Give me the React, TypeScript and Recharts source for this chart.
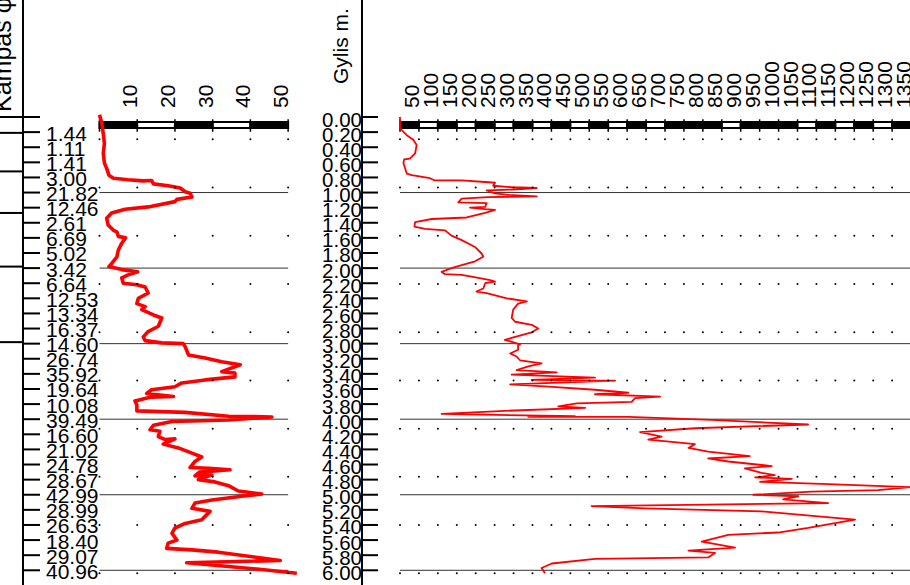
import React from 'react';
import { LineChart, Line, XAxis, YAxis, ReferenceLine, ReferenceArea, ReferenceDot } from 'recharts';

// ---------- data ----------
const depthTicks = [0, 0.2, 0.4, 0.6, 0.8, 1.0, 1.2, 1.4, 1.6, 1.8, 2.0, 2.2, 2.4, 2.6, 2.8, 3.0, 3.2, 3.4, 3.6, 3.8, 4.0, 4.2, 4.4, 4.6, 4.8, 5.0, 5.2, 5.4, 5.6, 5.8, 6.0];
const angleTickLabels = ['1.44', '1.11', '1.41', '3.00', '21.82', '12.46', '2.61', '6.69', '5.02', '3.42', '6.64', '12.53', '13.34', '16.37', '14.60', '26.74', '35.92', '19.64', '10.08', '39.49', '16.60', '21.02', '24.78', '28.67', '42.99', '28.99', '26.63', '18.40', '29.07', '40.96'];
const angleAxisTicks = [0, 10, 20, 30, 40, 50];
const angleScaleWhite = [false, true, false, true, false];
const resAxisTicks = [0, 50, 100, 150, 200, 250, 300, 350, 400, 450, 500, 550, 600, 650, 700, 750, 800, 850, 900, 950, 1000, 1050, 1100, 1150, 1200, 1250, 1300, 1350];
const resScaleWhiteIdx = [1, 3, 5, 7, 9, 11, 13, 17, 21, 23, 25];
const majorDepths = [1, 2, 3, 4, 5, 6];
const gridDotDepths = [0.295, 0.933, 1.572, 2.21, 2.848, 3.487, 4.125, 4.763, 5.402, 6.04];
const layerDepths = [0, 0.21, 0.72, 1.27, 1.98, 2.98];

const angleDepths = [-0.03, 0.08, 0.22, 0.35, 0.48, 0.61, 0.68, 0.77, 0.81, 0.83, 0.845, 0.84, 0.885, 0.91, 0.94, 0.99, 1.01, 1.06, 1.09, 1.12, 1.19, 1.22, 1.27, 1.34, 1.43, 1.5, 1.52, 1.58, 1.6, 1.67, 1.76, 1.85, 1.94, 1.98, 2.02, 2.05, 2.09, 2.13, 2.2, 2.22, 2.25, 2.33, 2.4, 2.47, 2.51, 2.55, 2.62, 2.66, 2.77, 2.84, 2.91, 2.96, 2.99, 3.0, 3.04, 3.15, 3.19, 3.24, 3.28, 3.37, 3.39, 3.44, 3.48, 3.52, 3.57, 3.61, 3.66, 3.7, 3.71, 3.76, 3.81, 3.89, 3.91, 3.96, 3.97, 4.01, 4.03, 4.08, 4.14, 4.16, 4.23, 4.27, 4.26, 4.33, 4.38, 4.45, 4.5, 4.56, 4.64, 4.65, 4.67, 4.7, 4.75, 4.74, 4.8, 4.83, 4.88, 4.95, 4.99, 5.02, 5.07, 5.11, 5.18, 5.22, 5.33, 5.38, 5.44, 5.51, 5.6, 5.64, 5.71, 5.73, 5.76, 5.87, 5.9, 5.95, 5.99, 6.04];
const angleValues = [0, 0.6, 1.0, 1.3, 1.0, 1.3, 1.9, 2.5, 3.7, 7.6, 11.5, 13.8, 14.3, 18.2, 21.4, 22.7, 24.0, 24.5, 20.5, 20.0, 12.9, 6.8, 3.2, 1.9, 2.3, 3.7, 4.6, 5.0, 6.9, 5.9, 5.0, 4.6, 3.2, 2.5, 5.9, 10.1, 7.6, 5.9, 6.3, 9.9, 12.1, 12.9, 10.3, 9.9, 12.1, 11.2, 14.3, 16.5, 15.6, 12.9, 11.6, 12.1, 16.5, 22.2, 22.7, 23.6, 28.0, 32.4, 37.3, 32.4, 35.9, 35.9, 28.0, 21.8, 20.0, 13.8, 12.5, 19.6, 13.4, 9.4, 9.9, 9.9, 22.7, 34.2, 45.7, 34.2, 19.2, 14.3, 13.4, 16.0, 15.6, 17.4, 20.0, 16.9, 20.9, 24.5, 27.1, 25.3, 24.0, 28.9, 34.6, 26.5, 25.3, 29.8, 26.2, 30.6, 34.2, 36.8, 43.0, 37.7, 29.8, 25.3, 24.5, 29.3, 27.1, 22.7, 20.0, 19.2, 20.5, 18.2, 17.8, 24.5, 31.5, 47.9, 23.1, 34.2, 43.0, 52.3];

const resDepths = [0, 0.15, 0.24, 0.3, 0.37, 0.48, 0.55, 0.56, 0.61, 0.75, 0.77, 0.81, 0.84, 0.84, 0.86, 0.87, 0.91, 0.93, 0.94, 0.96, 0.97, 1.01, 1.03, 1.05, 1.06, 1.08, 1.13, 1.14, 1.19, 1.2, 1.22, 1.23, 1.27, 1.33, 1.35, 1.39, 1.45, 1.48, 1.5, 1.57, 1.63, 1.72, 1.81, 1.85, 1.91, 1.96, 2.0, 2.05, 2.08, 2.09, 2.13, 2.16, 2.18, 2.2, 2.27, 2.31, 2.33, 2.4, 2.44, 2.47, 2.55, 2.66, 2.71, 2.75, 2.8, 2.85, 2.91, 2.95, 3.01, 3.02, 3.08, 3.13, 3.17, 3.22, 3.26, 3.3, 3.35, 3.38, 3.41, 3.45, 3.48, 3.49, 3.54, 3.57, 3.61, 3.65, 3.67, 3.7, 3.72, 3.77, 3.79, 3.83, 3.85, 3.89, 3.93, 3.96, 3.97, 3.97, 4.01, 4.07, 4.12, 4.17, 4.23, 4.27, 4.3, 4.33, 4.38, 4.43, 4.49, 4.52, 4.56, 4.62, 4.65, 4.71, 4.74, 4.77, 4.79, 4.83, 4.86, 4.9, 4.94, 4.96, 5.0, 5.02, 5.06, 5.11, 5.15, 5.18, 5.22, 5.33, 5.44, 5.5, 5.53, 5.62, 5.7, 5.74, 5.77, 5.83, 5.85, 5.91, 5.97, 6.04];
const resValues = [0, 0, 18, 35, 44, 40, 26, 11, 9, 18, 31, 79, 92, 163, 225, 251, 246, 295, 361, 299, 229, 251, 286, 361, 233, 163, 154, 229, 225, 185, 225, 251, 225, 176, 84, 40, 38, 66, 119, 136, 163, 198, 216, 220, 198, 163, 136, 110, 119, 163, 207, 238, 251, 225, 220, 202, 229, 282, 335, 312, 299, 295, 304, 348, 365, 348, 304, 277, 317, 312, 312, 291, 308, 317, 374, 339, 308, 414, 295, 515, 348, 568, 291, 392, 515, 603, 515, 687, 621, 612, 467, 418, 489, 277, 110, 462, 339, 603, 823, 1078, 779, 634, 691, 656, 718, 779, 762, 814, 924, 814, 867, 982, 911, 955, 990, 938, 1035, 951, 1131, 1347, 1263, 1087, 933, 1052, 1012, 1131, 506, 647, 955, 1202, 1078, 999, 867, 797, 885, 762, 832, 814, 515, 401, 374, 383];

const angleData = angleDepths.map((d, i) => ({ d, v: angleValues[i] }));
const resData = resDepths.map((d, i) => ({ d, v: resValues[i] }));

// ---------- geometry / style ----------
const FONT = 'Liberation Sans, Arial, sans-serif';
const CHART_H = 586;
const TOP_AXIS_H = 101.9;
const BOTTOM_M = 0.6;
const DEPTH_DOMAIN: [number, number] = [-0.2, 6.2];
const FULL_DEPTH: [number, number] = [-1.55, 6.2];
const BAR_Y: [number, number] = [0.066, 0.146];
const BAR_TICK_Y: [number, number] = [0.03, 0.195];

const TopTick = (props: any) => {
  const { x, y, payload } = props;
  if (payload.value === 0) return <g />;
  return (
    <text transform={`translate(${x},${y + 6}) rotate(-90)`} textAnchor="start" fontSize={21} fontFamily={FONT} fill="#000">
      {payload.value}
    </text>
  );
};

const LeftDepthTick = (props: any) => {
  const { x, y, payload } = props;
  const i = Math.round(payload.value / 0.2) - 1;
  const label = i >= 0 ? angleTickLabels[i] : null;
  return (
    <g>
      <line x1={x - 76.5} x2={x - 59.5} y1={y} y2={y} stroke="#000" strokeWidth={2} />
      {label && (
        <text x={x - 53.5} y={y} dy={1} textAnchor="start" dominantBaseline="central" fontSize={21} fontFamily={FONT} fill="#000">
          {label}
        </text>
      )}
    </g>
  );
};

const RightDepthTick = (props: any) => {
  const { x, y, payload } = props;
  return (
    <g>
      <line x1={x - 38} x2={x - 22} y1={y} y2={y} stroke="#000" strokeWidth={2} />
      <text x={x - 38} y={y} dy={2} textAnchor="end" dominantBaseline="central" fontSize={20.5} fontFamily={FONT} fill="#000">
        {payload.value.toFixed(2)}
      </text>
    </g>
  );
};

export default function App() {
  return (
    <div style={{ position: 'absolute', left: 0, top: 0, width: 910, height: 585, overflow: 'hidden', background: '#fff' }}>
      {/* Left panel: angle */}
      <div style={{ position: 'absolute', left: 0, top: 0 }}>
        <LineChart layout="vertical" width={307} height={CHART_H} data={angleData} margin={{ top: 0, right: 0, bottom: BOTTOM_M, left: 0 }}>
          <XAxis type="number" dataKey="v" domain={[0, 55]} orientation="top" height={TOP_AXIS_H} ticks={angleAxisTicks} interval={0} axisLine={false} tickLine={false} tickSize={0} tickMargin={0} tick={(p: any) => <TopTick {...p} />} />
          <YAxis type="number" dataKey="d" domain={DEPTH_DOMAIN} width={99.5} ticks={depthTicks} interval={0} axisLine={false} tickLine={false} tickSize={0} tickMargin={0} tick={(p: any) => <LeftDepthTick {...p} />} />
          <ReferenceLine segment={[{ x: -20.28, y: FULL_DEPTH[0] }, { x: -20.28, y: FULL_DEPTH[1] }]} stroke="#000" strokeWidth={2} ifOverflow="visible" />
          {layerDepths.map((d) => (
            <ReferenceLine key={'ly' + d} segment={[{ x: -26.5, y: d }, { x: -20.28, y: d }]} stroke="#000" strokeWidth={2} ifOverflow="visible" />
          ))}
          {majorDepths.map((d) => (
            <ReferenceLine key={'mj' + d} segment={[{ x: 0, y: d }, { x: 50, y: d }]} stroke="#333" strokeWidth={1} ifOverflow="visible" />
          ))}
          {angleScaleWhite.map((w, i) => (
            <ReferenceArea key={'sb' + i} x1={angleAxisTicks[i]} x2={angleAxisTicks[i + 1]} y1={BAR_Y[0]} y2={BAR_Y[1]} fill={w ? '#fff' : '#000'} fillOpacity={1} stroke="#000" strokeWidth={2} ifOverflow="visible" />
          ))}
          {angleAxisTicks.map((t) => (
            <ReferenceLine key={'bt' + t} segment={[{ x: t, y: BAR_TICK_Y[0] }, { x: t, y: BAR_TICK_Y[1] }]} stroke="#000" strokeWidth={1.5} ifOverflow="visible" />
          ))}
          {gridDotDepths.map((d) =>
            angleAxisTicks.map((t) => (
              <ReferenceDot key={'gd' + d + '_' + t} x={t} y={d} r={1} fill="#000" stroke="none" ifOverflow="visible" />
            ))
          )}
          <Line type="linear" dataKey="v" stroke="#ff0000" strokeWidth={3.6} dot={false} activeDot={false} isAnimationActive={false} strokeLinejoin="round" />
        </LineChart>
      </div>

      {/* Right panel: depth / resistance */}
      <div style={{ position: 'absolute', left: 300, top: 0 }}>
        <LineChart layout="vertical" width={630} height={CHART_H} data={resData} margin={{ top: 0, right: 0, bottom: BOTTOM_M, left: 0 }}>
          <XAxis type="number" dataKey="v" domain={[0, 1400]} orientation="top" height={TOP_AXIS_H} ticks={resAxisTicks} interval={0} axisLine={false} tickLine={false} tickSize={0} tickMargin={0} tick={(p: any) => <TopTick {...p} />} />
          <YAxis type="number" dataKey="d" domain={DEPTH_DOMAIN} width={100} ticks={depthTicks} interval={0} axisLine={false} tickLine={false} tickSize={0} tickMargin={0} tick={(p: any) => <RightDepthTick {...p} />} />
          <ReferenceLine segment={[{ x: -100.4, y: FULL_DEPTH[0] }, { x: -100.4, y: FULL_DEPTH[1] }]} stroke="#000" strokeWidth={2} ifOverflow="visible" />
          {majorDepths.map((d) => (
            <ReferenceLine key={'mj' + d} segment={[{ x: 0, y: d }, { x: 1400, y: d }]} stroke="#333" strokeWidth={1} ifOverflow="visible" />
          ))}
          {resAxisTicks.map((t, i) => (
            <ReferenceArea key={'sb' + i} x1={t} x2={t + 50} y1={BAR_Y[0]} y2={BAR_Y[1]} fill={resScaleWhiteIdx.includes(i) ? '#fff' : '#000'} fillOpacity={1} stroke="#000" strokeWidth={2} ifOverflow="visible" />
          ))}
          {resAxisTicks.map((t) => (
            <ReferenceLine key={'bt' + t} segment={[{ x: t, y: BAR_TICK_Y[0] }, { x: t, y: BAR_TICK_Y[1] }]} stroke="#000" strokeWidth={1.5} ifOverflow="visible" />
          ))}
          {gridDotDepths.map((d) =>
            resAxisTicks.map((t) => (
              <ReferenceDot key={'gd' + d + '_' + t} x={t} y={d} r={1} fill="#000" stroke="none" ifOverflow="visible" />
            ))
          )}
          <Line type="linear" dataKey="v" stroke="#ff0000" strokeWidth={1.8} dot={false} activeDot={false} isAnimationActive={false} strokeLinejoin="round" />
        </LineChart>
      </div>

      {/* Axis titles */}
      <svg width={910} height={585} style={{ position: 'absolute', left: 0, top: 0, pointerEvents: 'none' }}>
        <text transform="translate(11,112) rotate(-90)" textAnchor="start" fontSize={25} fontFamily={FONT} fill="#000">Kampas φ</text>
        <text transform="translate(348,84) rotate(-90)" textAnchor="start" fontSize={21} fontFamily={FONT} fill="#000">Gylis m.</text>
      </svg>
    </div>
  );
}
